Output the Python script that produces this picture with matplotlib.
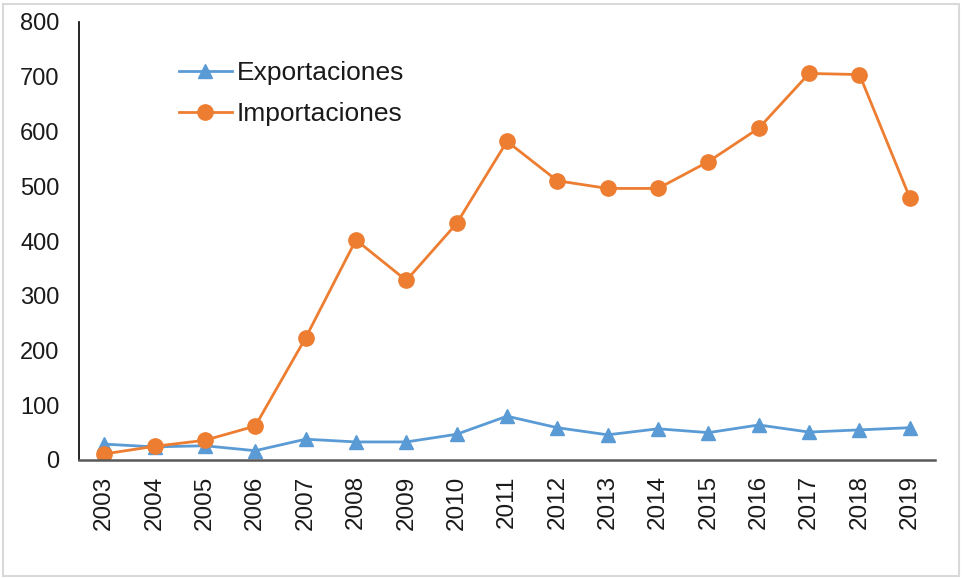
import matplotlib
matplotlib.use("Agg")
import matplotlib.pyplot as plt
from matplotlib.patches import Rectangle

years = ["2003", "2004", "2005", "2006", "2007", "2008", "2009", "2010", "2011",
         "2012", "2013", "2014", "2015", "2016", "2017", "2018", "2019"]
exportaciones = [29, 24, 26, 17, 38, 33, 33, 47, 80, 59, 46, 57, 50, 64, 51, 55, 59]
importaciones = [11, 25, 36, 62, 223, 402, 328, 432, 582, 510, 496, 496, 545, 606, 706, 704, 479]
yticks = [0, 100, 200, 300, 400, 500, 600, 700, 800]

plt.rcParams['font.family'] = ['Liberation Sans', 'DejaVu Sans']

W, H = 963, 578
fig = plt.figure(figsize=(W / 100, H / 100), dpi=100)
fig.patch.set_facecolor('white')
fig.add_artist(Rectangle((3 / W, 2 / H), (959 - 3) / W, (576 - 4) / H,
                         transform=fig.transFigure, fill=False,
                         edgecolor='#d9d9d9', linewidth=1.5))

ax = fig.add_axes([79 / W, 1 - 460 / H, (935 - 79) / W, (460 - 22) / H])
x = list(range(len(years)))
ax.plot(x, exportaciones, color='#5B9BD5', marker='^', markersize=10,
        linewidth=2, label='Exportaciones')
ax.plot(x, importaciones, color='#ED7D31', marker='o', markersize=11,
        linewidth=2, label='Importaciones')

ax.set_xlim(-0.5, len(years) - 0.5)
ax.set_ylim(0, 800)
ax.set_yticks(yticks)
ax.set_yticklabels([str(v) for v in yticks], fontsize=17, color='#1a1a1a')
ax.set_xticks(x)
ax.set_xticklabels(years, rotation=90, fontsize=17.5, color='#1a1a1a')
ax.tick_params(axis='both', length=0)
ax.tick_params(axis='y', pad=14)
ax.tick_params(axis='x', pad=11)
for s in ['top', 'right']:
    ax.spines[s].set_visible(False)
ax.spines['left'].set_color('black')
ax.spines['left'].set_linewidth(1.2)
ax.spines['bottom'].set_color('#595959')
ax.spines['bottom'].set_linewidth(1.8)

leg = ax.legend(loc='center left', bbox_to_anchor=(179 / W, 1 - 93.5 / H),
                bbox_transform=fig.transFigure, frameon=False, fontsize=19,
                handlelength=2.0, handletextpad=0.2, labelspacing=0.65,
                borderpad=0, borderaxespad=0)
for t in leg.get_texts():
    t.set_color('#1a1a1a')

fig.savefig('out.png', dpi=100, facecolor='white')
